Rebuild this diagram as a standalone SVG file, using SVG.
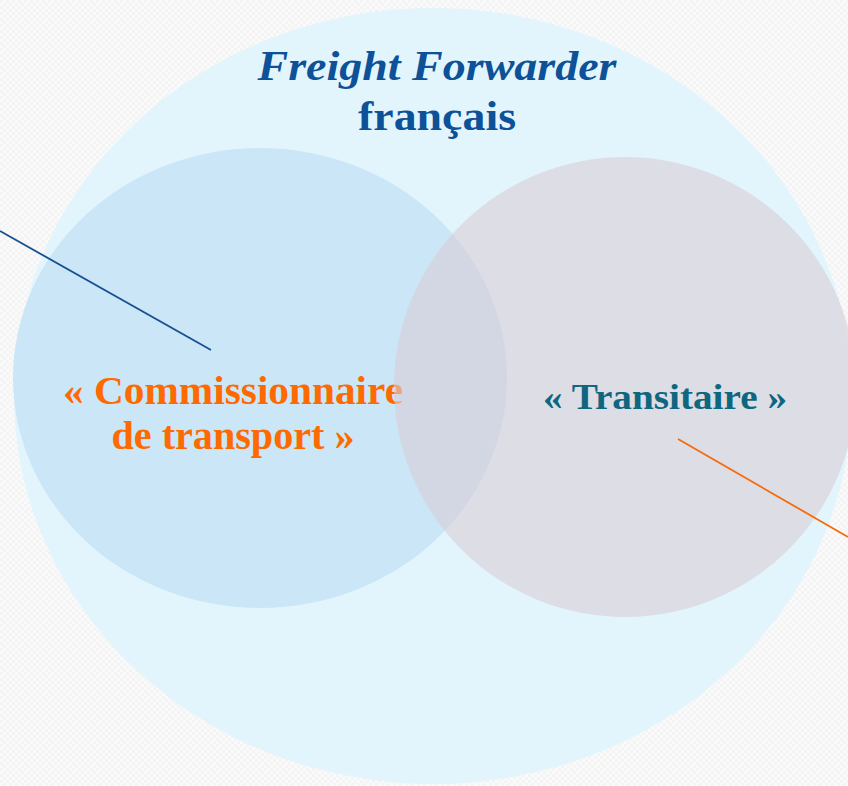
<svg xmlns="http://www.w3.org/2000/svg" width="848" height="786" viewBox="0 0 848 786">
<defs>
<pattern id="bgtex" width="6" height="6" patternUnits="userSpaceOnUse">
<rect width="6" height="6" fill="#fafafa"/>
<rect width="3" height="3" fill="#f4f4f4"/>
<rect x="3" y="3" width="3" height="3" fill="#f4f4f4"/>
</pattern>
<style>
.t{font-family:"Liberation Serif","DejaVu Serif",serif;font-weight:bold;text-anchor:middle}
.title{fill:#0d5198;font-size:43px}
.orange{fill:#ff6a00;font-size:39px}
.teal{fill:#0e6680;font-size:36px}
.conn{fill:none;stroke-width:1.8}
</style>
</defs>
<rect width="848" height="786" fill="url(#bgtex)"/>
<g id="freight-forwarder">
<ellipse cx="433" cy="396" rx="419" ry="388" fill="#e0f4fc" fill-opacity="0.95"/>
<text class="t title" x="437" y="80" font-style="italic" textLength="359" lengthAdjust="spacingAndGlyphs">Freight Forwarder</text>
<text class="t title" x="437" y="130" textLength="158" lengthAdjust="spacingAndGlyphs">français</text>
</g>
<g id="commissionnaire">
<ellipse cx="260" cy="378" rx="247" ry="230" fill="#cbe6f7"/>
<text class="t orange" x="233" y="404" textLength="340" lengthAdjust="spacingAndGlyphs">« Commissionnaire</text>
<text class="t orange" x="233" y="449" textLength="243" lengthAdjust="spacingAndGlyphs">de transport »</text>
</g>
<g id="transitaire">
<ellipse cx="625" cy="387" rx="231" ry="230" fill="#d9cdd5" fill-opacity="0.6"/>
<text class="t teal" x="665" y="409" textLength="244" lengthAdjust="spacingAndGlyphs">« Transitaire »</text>
</g>
<g id="connectors">
<line class="conn" x1="0" y1="231" x2="211" y2="350" stroke="#16508f"/>
<line class="conn" x1="678" y1="439" x2="848" y2="537" stroke="#f76a0c"/>
</g>
</svg>
